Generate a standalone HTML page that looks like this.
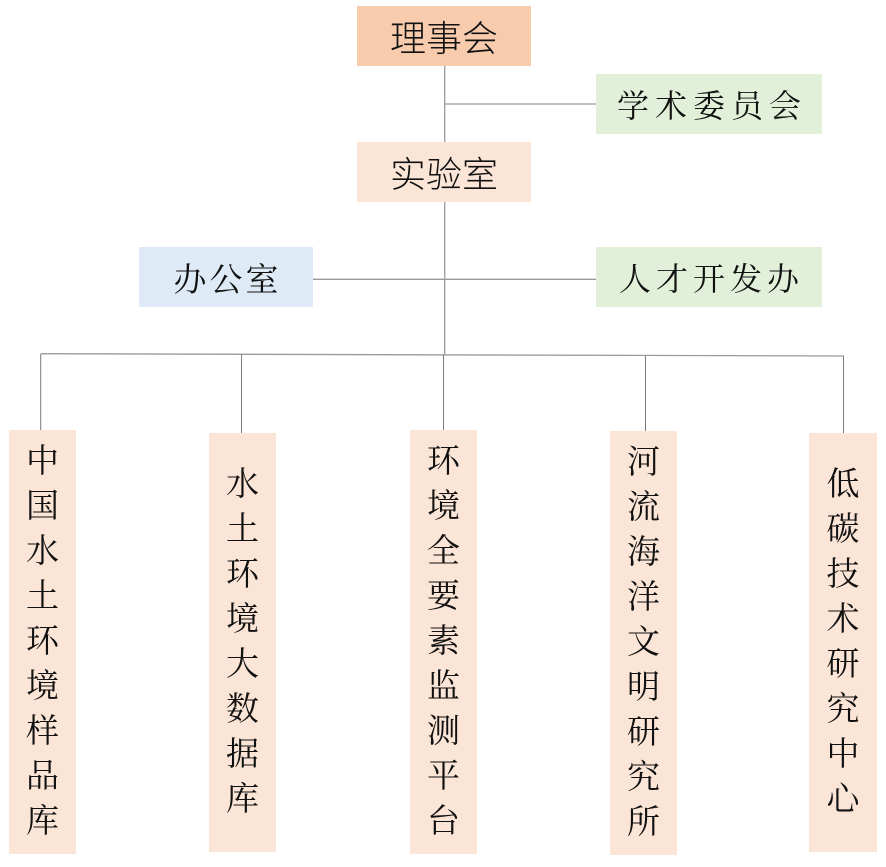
<!DOCTYPE html>
<html><head><meta charset="utf-8">
<style>
html,body{margin:0;padding:0;background:#fff;}
body{width:886px;height:867px;position:relative;overflow:hidden;}
.b{position:absolute;display:flex;align-items:center;justify-content:center;color:#111;}
.sans{font-family:"Liberation Sans","Noto Sans CJK SC",sans-serif;font-weight:300;}
.serif{font-family:"Liberation Serif","Noto Serif CJK SC",serif;}
.v{font-family:"Liberation Serif","Noto Serif CJK SC",serif;font-size:33px;line-height:45px;text-align:center;flex-direction:column;}
svg{position:absolute;left:0;top:0;}
</style></head><body>
<svg width="886" height="867">
<g stroke="#9a9a9a" stroke-width="1.3" fill="none">
<line x1="444.7" y1="66" x2="444.7" y2="142"/>
<line x1="444.7" y1="104" x2="596" y2="104"/>
<line x1="444.7" y1="202" x2="444.7" y2="355"/>
<line x1="313" y1="279.3" x2="596" y2="279.3"/>
<line x1="40.7" y1="353.7" x2="843.5" y2="356"/>
</g>
<g stroke="#7a7a7a" stroke-width="1" fill="none">
<line x1="40.7" y1="354" x2="40.7" y2="430"/>
<line x1="241.5" y1="354.5" x2="241.5" y2="433"/>
<line x1="443.5" y1="355" x2="443.5" y2="430"/>
<line x1="645.5" y1="355.5" x2="645.5" y2="431"/>
<line x1="843.5" y1="356" x2="843.5" y2="433"/>
</g>
</svg>

<div class="b sans" style="left:357px;top:6px;width:174px;height:60px;background:#F8CBAD;font-size:36px;">理事会</div>
<div class="b serif" style="left:596px;top:74px;width:226px;height:60px;background:#E2F0D9;font-size:32px;letter-spacing:6px;padding-left:6px;box-sizing:border-box;">学术委员会</div>
<div class="b sans" style="left:357px;top:142px;width:174px;height:60px;background:#FBE5D6;font-size:36px;">实验室</div>
<div class="b serif" style="left:139px;top:247px;width:174px;height:60px;background:#DEEBF7;font-size:33px;letter-spacing:3px;padding-left:3px;box-sizing:border-box;">办公室</div>
<div class="b serif" style="left:596px;top:247px;width:226px;height:60px;background:#E2F0D9;font-size:32px;letter-spacing:5px;padding-left:5px;box-sizing:border-box;">人才开发办</div>

<div class="b v" style="left:9px;top:430px;width:67px;height:424px;background:#FBE5D6;"><div>中<br>国<br>水<br>土<br>环<br>境<br>样<br>品<br>库</div></div>
<div class="b v" style="left:209px;top:433px;width:67px;height:419px;background:#FBE5D6;"><div>水<br>土<br>环<br>境<br>大<br>数<br>据<br>库</div></div>
<div class="b v" style="left:410px;top:430px;width:67px;height:424px;background:#FBE5D6;"><div>环<br>境<br>全<br>要<br>素<br>监<br>测<br>平<br>台</div></div>
<div class="b v" style="left:610px;top:431px;width:67px;height:424px;background:#FBE5D6;"><div>河<br>流<br>海<br>洋<br>文<br>明<br>研<br>究<br>所</div></div>
<div class="b v" style="left:809px;top:433px;width:68px;height:419px;background:#FBE5D6;"><div>低<br>碳<br>技<br>术<br>研<br>究<br>中<br>心</div></div>
</body></html>
